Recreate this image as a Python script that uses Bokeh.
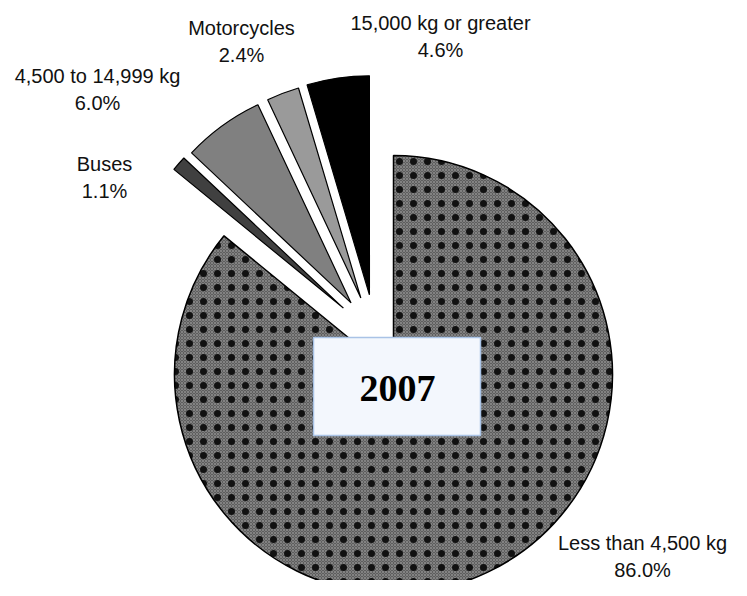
import math
from bokeh.plotting import figure
from bokeh.models import ColumnDataSource, Range1d
from bokeh.embed import file_html
from bokeh.resources import INLINE
from bokeh.core.properties import value

# ---- data ----
categories = ["Less than 4,500 kg", "Buses", "4,500 to 14,999 kg", "Motorcycles", "15,000 kg or greater"]
shares = [86.0, 1.1, 6.0, 2.4, 4.6]
pct_labels = ["86.0%", "1.1%", "6.0%", "2.4%", "4.6%"]
year_label = "2007"

# ---- layout / style ----
PW, PH = 731, 580
PAGE_H = 596
CX, CY = 393, PAGE_H - 374
R = 219
EXPLODE = 0.38
SPREAD = 0.5
fills = ["#5e5e5e", "#404040", "#808080", "#9a9a9a", "#000000"]
exploded = [False, True, True, True, True]
label_xy = [(642, PAGE_H - 556), (104, PAGE_H - 177), (97, PAGE_H - 89), (241, PAGE_H - 41), (440, PAGE_H - 36)]

total = sum(shares)
starts, ends, bis = [], [], []
cum = 0.0
for s in shares:
    a0 = 90 - 360 * cum / total
    cum += s
    a1 = 90 - 360 * cum / total
    starts.append(a1)
    ends.append(a0)
    bis.append((a0 + a1) / 2)

g_lo = min(starts[i] for i in range(len(shares)) if exploded[i]) + 360
g_hi = max(ends[i] for i in range(len(shares)) if exploded[i]) + 360
g_mid = (g_lo + g_hi) / 2

xs, ys = [], []
for i in range(len(shares)):
    if exploded[i]:
        b = bis[i] + 360
        d = g_mid + SPREAD * (b - g_mid)
        xs.append(CX + EXPLODE * R * math.cos(math.radians(d)))
        ys.append(CY + EXPLODE * R * math.sin(math.radians(d)))
    else:
        xs.append(CX)
        ys.append(CY)

p = figure(width=PW, height=PH, x_range=Range1d(0, PW), y_range=Range1d(PAGE_H - PH, PAGE_H),
           output_backend="svg", toolbar_location=None, min_border=0,
           x_axis_type=None, y_axis_type=None)
p.grid.visible = False
p.outline_line_color = None
p.background_fill_color = "white"
p.border_fill_color = "white"

big = ColumnDataSource(dict(x=[xs[0]], y=[ys[0]], s=[math.radians(starts[0])], e=[math.radians(ends[0])]))
p.wedge(x="x", y="y", radius=R, start_angle="s", end_angle="e", source=big,
        fill_color=fills[0], line_color=None,
        hatch_pattern="diagonal_cross", hatch_color="#868686", hatch_scale=3, hatch_weight=1, hatch_alpha=0.9)
p.wedge(x="x", y="y", radius=R, start_angle="s", end_angle="e", source=big,
        fill_alpha=0, line_color="black", line_width=1.5,
        hatch_pattern="dot", hatch_color="#111111", hatch_scale=14, hatch_weight=1)

small = ColumnDataSource(dict(
    x=xs[1:], y=ys[1:],
    s=[math.radians(a) for a in starts[1:]],
    e=[math.radians(a) for a in ends[1:]],
    c=fills[1:],
))
p.wedge(x="x", y="y", radius=R, start_angle="s", end_angle="e", source=small,
        fill_color="c", line_color="black", line_width=1.2)

lab = ColumnDataSource(dict(
    x=[xy[0] for xy in label_xy], y=[xy[1] for xy in label_xy],
    t=[f"{c}\n{v}" for c, v in zip(categories, pct_labels)],
))
p.text(x="x", y="y", text="t", source=lab, text_font=value("Liberation Sans"),
       text_font_size="20px", text_color="#111111", text_align="center",
       text_baseline="middle", text_line_height=1.25)

p.rect(x=[396.5], y=[PAGE_H - 386], width=[167], height=[98],
       fill_color="#f3f7fd", line_color="#a9c3e6", line_width=1.5)
p.text(x=[397], y=[PAGE_H - 388], text=[year_label], text_font=value("Liberation Serif"),
       text_font_style="bold", text_font_size="38px", text_color="black",
       text_align="center", text_baseline="middle")

open("out.html", "w").write(file_html(p, INLINE))
